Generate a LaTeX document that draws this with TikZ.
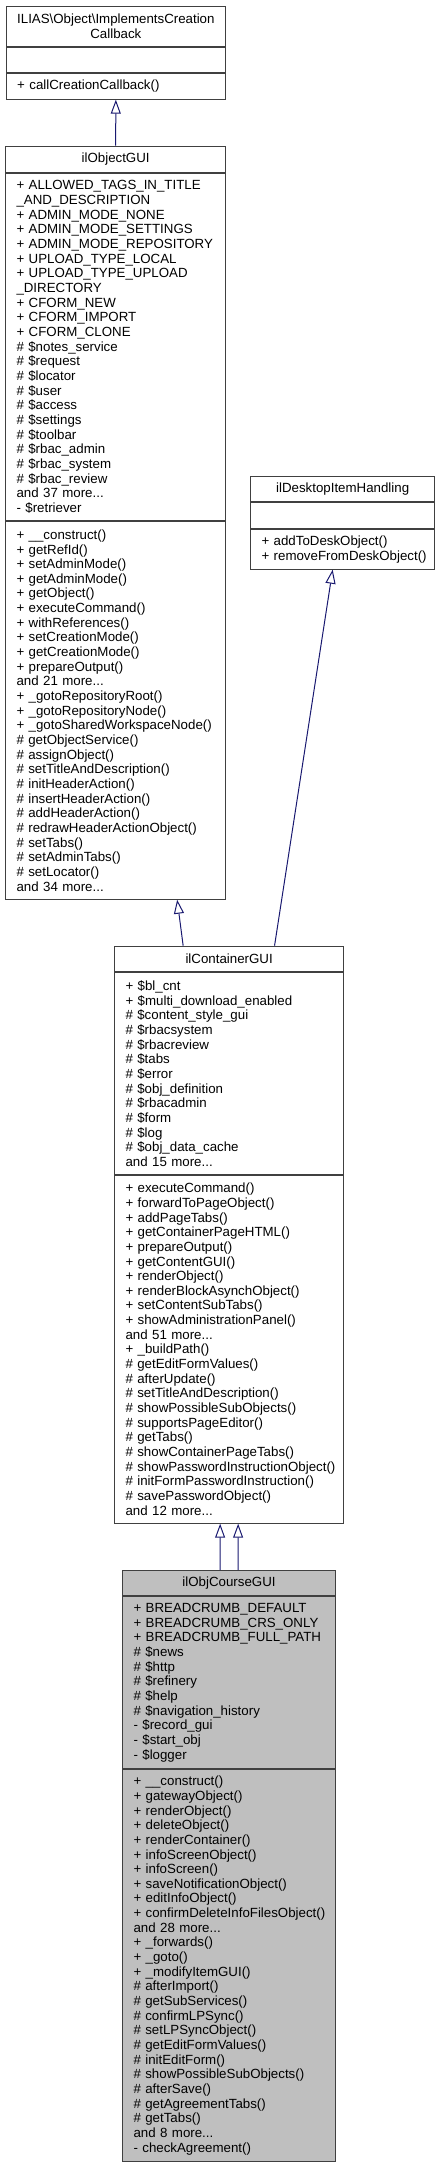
\documentclass[tikz,border=0pt]{standalone}
\usepackage{fontspec}
\setmainfont{Liberation Sans}
\usetikzlibrary{positioning}
\usetikzlibrary{arrows.meta}

\begin{document}
\begin{tikzpicture}
[x=1bp,y=-1bp,line cap=butt,
% Styles
classbase/.style={draw=boxcolor,line width=1bp,inner xsep=0pt,inner ysep=0pt,
  font=\fontsize{13.3bp}{14.66bp}\selectfont,anchor=north west},
classhead/.style={classbase,align=center},
classpart/.style={classbase,align=left,execute at begin node={\leftskip=11bp\relax}},
focus/.style={fill=coursefill},
inherit/.style={draw=edgecolor,line width=1bp,-{Triangle[open,length=14bp,width=10bp]}}]
% Colors
\colorlet{boxcolor}{black!75}
\definecolor{edgecolor}{HTML}{191970}
\definecolor{coursefill}{HTML}{BFBFBF}
% The graphic
\useasboundingbox (0,0) rectangle (439,2165);
% ILIAS\Object\ImplementsCreationCallback
\node[classhead,text width=219.3bp,minimum height=40bp] (cbhead) at (5.7,5.7)
{ILIAS\textbackslash Object\textbackslash ImplementsCreation\\Callback};
\node[classpart,text width=219.3bp,minimum height=25.3bp,below=0pt of cbhead] (cbattr) {};
\node[classpart,text width=219.3bp,minimum height=25.7bp,below=0pt of cbattr] (cbops)
{+ callCreationCallback()};
% ilObjectGUI
\node[classhead,text width=220.3bp,minimum height=26bp] (objhead) at (5,145.7) {ilObjectGUI};
\node[classpart,text width=220.3bp,minimum height=347.6bp,below=0pt of objhead] (objattr)
{+ ALLOWED\_TAGS\_IN\_TITLE\\\_AND\_DESCRIPTION\\+ ADMIN\_MODE\_NONE\\+ ADMIN\_MODE\_SETTINGS\\
+ ADMIN\_MODE\_REPOSITORY\\+ UPLOAD\_TYPE\_LOCAL\\+ UPLOAD\_TYPE\_UPLOAD\\\_DIRECTORY\\
+ CFORM\_NEW\\+ CFORM\_IMPORT\\+ CFORM\_CLONE\\\# \$notes\_service\\\# \$request\\
\# \$locator\\\# \$user\\\# \$access\\\# \$settings\\\# \$toolbar\\\# \$rbac\_admin\\
\# \$rbac\_system\\\# \$rbac\_review\\and 37 more...\\- \$retriever};
\node[classpart,text width=220.3bp,minimum height=377.4bp,below=0pt of objattr] (objops)
{+ \_\_construct()\\+ getRefId()\\+ setAdminMode()\\+ getAdminMode()\\+ getObject()\\
+ executeCommand()\\+ withReferences()\\+ setCreationMode()\\+ getCreationMode()\\
+ prepareOutput()\\and 21 more...\\+ \_gotoRepositoryRoot()\\+ \_gotoRepositoryNode()\\
+ \_gotoSharedWorkspaceNode()\\\# getObjectService()\\\# assignObject()\\
\# setTitleAndDescription()\\\# initHeaderAction()\\\# insertHeaderAction()\\
\# addHeaderAction()\\\# redrawHeaderActionObject()\\\# setTabs()\\\# setAdminTabs()\\
\# setLocator()\\and 34 more...};
% ilDesktopItemHandling
\node[classhead,text width=184.3bp,minimum height=25bp] (deskhead) at (250,476) {ilDesktopItemHandling};
\node[classpart,text width=184.3bp,minimum height=26.3bp,below=0pt of deskhead] (deskattr) {};
\node[classpart,text width=184.3bp,minimum height=39.4bp,below=0pt of deskattr] (deskops)
{+ addToDeskObject()\\+ removeFromDeskObject()};
% ilContainerGUI
\node[classhead,text width=229.3bp,minimum height=25.6bp] (conthead) at (114,945.7) {ilContainerGUI};
\node[classpart,text width=229.3bp,minimum height=201.4bp,below=0pt of conthead] (contattr)
{+ \$bl\_cnt\\+ \$multi\_download\_enabled\\\# \$content\_style\_gui\\\# \$rbacsystem\\
\# \$rbacreview\\\# \$tabs\\\# \$error\\\# \$obj\_definition\\\# \$rbacadmin\\\# \$form\\
\# \$log\\\# \$obj\_data\_cache\\and 15 more...};
\node[classpart,text width=229.3bp,minimum height=348bp,below=0pt of contattr] (contops)
{+ executeCommand()\\+ forwardToPageObject()\\+ addPageTabs()\\+ getContainerPageHTML()\\
+ prepareOutput()\\+ getContentGUI()\\+ renderObject()\\+ renderBlockAsynchObject()\\
+ setContentSubTabs()\\+ showAdministrationPanel()\\and 51 more...\\+ \_buildPath()\\
\# getEditFormValues()\\\# afterUpdate()\\\# setTitleAndDescription()\\
\# showPossibleSubObjects()\\\# supportsPageEditor()\\\# getTabs()\\
\# showContainerPageTabs()\\\# showPasswordInstructionObject()\\
\# initFormPasswordInstruction()\\\# savePasswordObject()\\and 12 more...};
% ilObjCourseGUI
\node[classhead,focus,text width=213bp,minimum height=25bp] (crshead) at (122,1570) {ilObjCourseGUI};
\node[classpart,focus,text width=213bp,minimum height=172.3bp,below=0pt of crshead] (crsattr)
{+ BREADCRUMB\_DEFAULT\\+ BREADCRUMB\_CRS\_ONLY\\+ BREADCRUMB\_FULL\_PATH\\\# \$news\\
\# \$http\\\# \$refinery\\\# \$help\\\# \$navigation\_history\\- \$record\_gui\\
- \$start\_obj\\- \$logger};
\node[classpart,focus,text width=213bp,minimum height=391.4bp,below=0pt of crsattr] (crsops)
{+ \_\_construct()\\+ gatewayObject()\\+ renderObject()\\+ deleteObject()\\
+ renderContainer()\\+ infoScreenObject()\\+ infoScreen()\\+ saveNotificationObject()\\
+ editInfoObject()\\+ confirmDeleteInfoFilesObject()\\and 28 more...\\+ \_forwards()\\
+ \_goto()\\+ \_modifyItemGUI()\\\# afterImport()\\\# getSubServices()\\
\# confirmLPSync()\\\# setLPSyncObject()\\\# getEditFormValues()\\\# initEditForm()\\
\# showPossibleSubObjects()\\\# afterSave()\\\# getAgreementTabs()\\\# getTabs()\\
and 8 more...\\- checkAgreement()};
% Inheritance
\draw[inherit] (objhead.north) -- (cbops.south);
\draw[inherit] ([xshift=-46bp]conthead.north) -- ([xshift=61.5bp]objops.south);
\draw[inherit] ([xshift=45.4bp]conthead.north) -- ([xshift=-10bp]deskops.south);
\foreach \dx in {-9,9}
\draw[inherit] ([xshift=\dx bp]crshead.north) -- ([xshift=\dx bp]contops.south);
\end{tikzpicture}
\end{document}
